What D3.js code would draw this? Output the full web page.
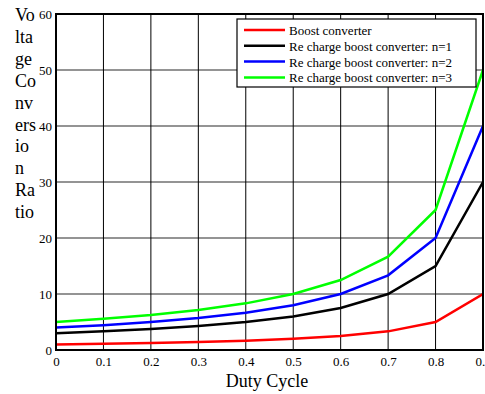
<!DOCTYPE html>
<html><head><meta charset="utf-8">
<script src="https://cdn.jsdelivr.net/npm/d3@7"></script>
<style>body{margin:0;background:#fff}svg{display:block}</style>
</head><body>
<script>
const duty = [0, 0.1, 0.2, 0.3, 0.4, 0.5, 0.6, 0.7, 0.8, 0.9];
const boost = [1, 1.11, 1.25, 1.43, 1.67, 2, 2.5, 3.33, 5, 10];
const rcN1 = [3, 3.33, 3.75, 4.29, 5, 6, 7.5, 10, 15, 30];
const rcN2 = [4, 4.44, 5, 5.71, 6.67, 8, 10, 13.33, 20, 40];
const rcN3 = [5, 5.56, 6.25, 7.14, 8.33, 10, 12.5, 16.67, 25, 50];
const seriesNames = ["Boost converter", "Re charge boost converter: n=1", "Re charge boost converter: n=2", "Re charge boost converter: n=3"];
const seriesColors = ["#ff0000", "#000000", "#0000ff", "#00ff00"];
const xTicks = [0, 0.1, 0.2, 0.3, 0.4, 0.5, 0.6, 0.7, 0.8, 0.9];
const yTicks = [0, 10, 20, 30, 40, 50, 60];
const yLabelParts = ["Vo", "lta", "ge", "Co", "nv", "ers", "io", "n", "Ra", "tio"];
const xLabel = "Duty Cycle";

const W = 485, H = 394;
const L = 56, R = 483, T = 14, B = 350;
const font = "'Liberation Serif', 'Times New Roman', serif";
const svg = d3.select("body").append("svg").attr("width", W).attr("height", H);
const x = d3.scaleLinear().domain([0, 0.9]).range([L, R]);
const y = d3.scaleLinear().domain([0, 60]).range([B, T]);

// grid
svg.append("g").selectAll("line").data(yTicks).join("line")
  .attr("x1", L).attr("x2", R).attr("y1", d => y(d)).attr("y2", d => y(d))
  .attr("stroke", "#707070").attr("stroke-width", 1.5);
svg.append("g").selectAll("line").data(xTicks).join("line")
  .attr("x1", d => x(d)).attr("x2", d => x(d)).attr("y1", T).attr("y2", B)
  .attr("stroke", "#000").attr("stroke-width", 1);

// axes labels via d3 axes
const xAxis = svg.append("g").attr("transform", `translate(0,${B})`)
  .call(d3.axisBottom(x).tickValues(xTicks).tickSize(0).tickPadding(7).tickFormat(d3.format("")));
xAxis.select(".domain").remove();
xAxis.selectAll("text").attr("font-family", font).attr("font-size", 13).attr("fill", "#000");
const yAxis = svg.append("g").attr("transform", `translate(${L},0)`)
  .call(d3.axisLeft(y).tickValues(yTicks).tickSize(0).tickPadding(4));
yAxis.select(".domain").remove();
yAxis.selectAll("text").attr("font-family", font).attr("font-size", 13).attr("fill", "#000");

// lines
const allSeries = [boost, rcN1, rcN2, rcN3];
const line = d3.line().x((d, i) => x(duty[i])).y(d => y(d));
svg.append("clipPath").attr("id", "clp").append("rect")
  .attr("x", L).attr("y", T).attr("width", R - L).attr("height", B - T);
svg.append("g").attr("clip-path", "url(#clp)").selectAll("path").data(allSeries).join("path")
  .attr("d", d => line(d)).attr("fill", "none")
  .attr("stroke", (d, i) => seriesColors[i]).attr("stroke-width", 2.5);

// border
svg.append("rect").attr("x", L).attr("y", T).attr("width", R - L).attr("height", B - T)
  .attr("fill", "none").attr("stroke", "#000").attr("stroke-width", 2);

// legend
const lg = svg.append("g");
lg.append("rect").attr("x", 237).attr("y", 19).attr("width", 239).attr("height", 68)
  .attr("fill", "#fff").attr("stroke", "#000").attr("stroke-width", 1.2);
seriesNames.forEach((n, i) => {
  const yy = 30 + i * 15.8;
  lg.append("line").attr("x1", 244).attr("x2", 285).attr("y1", yy).attr("y2", yy)
    .attr("stroke", seriesColors[i]).attr("stroke-width", 2.5);
  lg.append("text").attr("x", 289).attr("y", yy + 5).text(n)
    .attr("font-family", font).attr("font-size", 13).attr("fill", "#000");
});

// y label
yLabelParts.forEach((p, i) => {
  svg.append("text").attr("x", 15).attr("y", 21 + i * 21.9).text(p)
    .attr("font-family", font).attr("font-size", 18).attr("fill", "#000");
});
svg.append("text").attr("x", 267).attr("y", 387).attr("text-anchor", "middle").text(xLabel)
  .attr("font-family", font).attr("font-size", 18).attr("fill", "#000");
</script>
</body></html>
